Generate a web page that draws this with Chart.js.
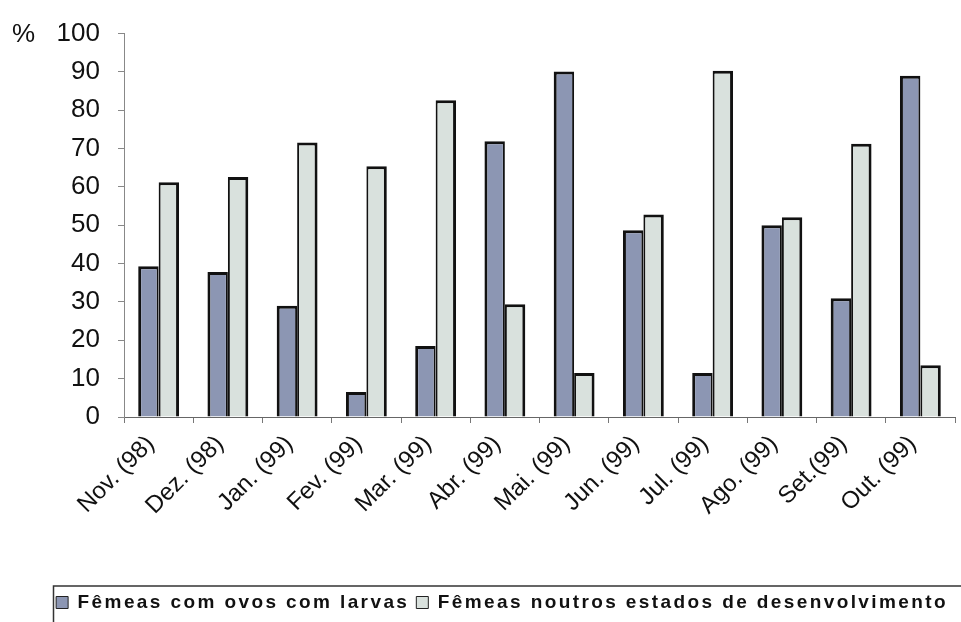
<!DOCTYPE html>
<html>
<head>
<meta charset="utf-8">
<script src="https://cdn.jsdelivr.net/npm/chart.js@4/dist/chart.umd.min.js"></script>
<style>
  html, body { margin: 0; padding: 0; background: #fff; }
  #wrap { width: 961px; height: 622px; }
</style>
</head>
<body>
<div id="wrap"><canvas id="grafico"></canvas></div>
<script>
// Meses de amostragem
const meses = ['Nov. (98)', 'Dez. (98)', 'Jan. (99)', 'Fev. (99)', 'Mar. (99)', 'Abr. (99)',
               'Mai. (99)', 'Jun. (99)', 'Jul. (99)', 'Ago. (99)', 'Set.(99)', 'Out. (99)'];

// Percentagem de fêmeas em cada estado
const comOvosLarvas = [39.3, 37.8, 29.0, 6.5, 18.5, 71.9, 90.1, 48.7, 11.5, 50.0, 31.0, 89.0];
const outrosEstados = [61.2, 62.6, 71.6, 65.4, 82.6, 29.4, 11.5, 52.8, 90.3, 52.1, 71.3, 13.5];

const yTicks = [0, 10, 20, 30, 40, 50, 60, 70, 80, 90, 100];

const FONT = '"Liberation Sans", Arial, sans-serif';
const LEGEND_SPACING = '2.4px';

// Espaçamento entre letras só para a legenda; os eixos ficam normais
const espacamentoLegenda = {
  id: 'espacamentoLegenda',
  beforeLayout(chart) { chart.ctx.letterSpacing = LEGEND_SPACING; },
  afterLayout(chart) { chart.ctx.letterSpacing = '0px'; },
  beforeDraw(chart) { chart.ctx.letterSpacing = LEGEND_SPACING; },
  beforeDatasetsDraw(chart) { chart.ctx.letterSpacing = '0px'; },
  afterDraw(chart) {
    const ctx = chart.ctx;
    ctx.save();
    ctx.letterSpacing = '0px';
    // símbolo de percentagem junto ao topo do eixo
    ctx.font = '26px ' + FONT;
    ctx.fillStyle = '#111';
    ctx.textAlign = 'left';
    ctx.textBaseline = 'middle';
    ctx.fillText('%', 12, chart.scales.y.getPixelForValue(100) + 1);
    // moldura da legenda
    ctx.strokeStyle = '#333';
    ctx.lineWidth = 1.5;
    ctx.strokeRect(53.5, 586, 920, 60);
    ctx.restore();
  }
};

new Chart(document.getElementById('grafico'), {
  type: 'bar',
  data: {
    labels: meses,
    datasets: [
      {
        label: 'Fêmeas com ovos com larvas',
        data: comOvosLarvas,
        backgroundColor: '#8c96b3',
        borderColor: '#111',
        borderWidth: { top: 3, left: 3, right: 2, bottom: 0 }
      },
      {
        label: 'Fêmeas noutros estados de desenvolvimento',
        data: outrosEstados,
        backgroundColor: '#d9e1dd',
        borderColor: '#111',
        borderWidth: { top: 3, left: 2, right: 3, bottom: 0 }
      }
    ]
  },
  options: {
    responsive: true,
    maintainAspectRatio: false,
    animation: false,
    datasets: {
      bar: { categoryPercentage: 0.59, barPercentage: 1.0 }
    },
    layout: { padding: { left: 30, right: 6, top: 25, bottom: 0 } },
    plugins: {
      tooltip: { enabled: false },
      legend: {
        position: 'bottom',
        align: 'end',
        labels: {
          color: '#111',
          font: { family: FONT, size: 19, weight: 'bold' },
          boxWidth: 12,
          boxHeight: 12,
          padding: 7,
          generateLabels(chart) {
            const base = Chart.defaults.plugins.legend.labels.generateLabels(chart);
            return base.map(item => Object.assign(item, { lineWidth: 1, strokeStyle: '#222' }));
          }
        }
      }
    },
    scales: {
      x: {
        grid: {
          display: true,
          drawOnChartArea: false,
          offset: true,
          tickLength: 6,
          color: '#777'
        },
        border: { color: '#666', width: 1 },
        ticks: {
          z: 1,
          color: '#111',
          font: { family: FONT, size: 24 },
          maxRotation: 45,
          minRotation: 45,
          padding: 7,
          labelOffset: -8
        },
        afterFit(scale) {
          const legendH = scale.chart.legend ? scale.chart.legend.height : 0;
          scale.height = scale.chart.height - 417 - legendH;
        }
      },
      y: {
        min: 0,
        max: 100,
        afterBuildTicks(scale) {
          scale.ticks = yTicks.map(v => ({ value: v }));
        },
        grid: {
          display: true,
          drawOnChartArea: false,
          tickLength: 6,
          color: '#888'
        },
        border: { color: '#888', width: 1 },
        ticks: {
          z: 1,
          color: '#111',
          font: { family: FONT, size: 26 },
          padding: 18
        },
        afterFit(scale) {
          scale.width = 94;
        }
      }
    }
  },
  plugins: [espacamentoLegenda]
});
</script>
</body>
</html>
